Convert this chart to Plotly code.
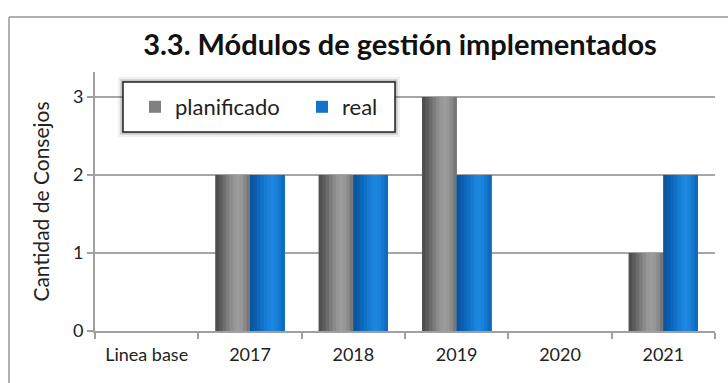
import plotly.graph_objects as go

categories = ["Linea base", "2017", "2018", "2019", "2020", "2021"]
planificado = [0, 2, 2, 3, 0, 1]
real = [0, 2, 2, 2, 0, 2]
y_ticks = [0, 1, 2, 3]

FONT = "Lato, 'Open Sans', sans-serif"
BAR_W = 0.335  # width of one bar in category units

# shading profile across a bar (left -> right), giving a cylinder look
gray_strips = ["#4f4f4f", "#5c5c5c", "#6c6c6c", "#7c7c7c", "#8b8b8b",
               "#979797", "#9c9c9c", "#979797", "#8a8a8a", "#777777"]
blue_strips = ["#0a56a0", "#0b5eae", "#0d67bb", "#1171c8", "#167bd3",
               "#1b83dc", "#1d87e0", "#1a82da", "#1478ce", "#0f6bbd"]

fig = go.Figure()


def add_series(name, values, base_color, strips, offset):
    # base bar (also carries the legend entry)
    fig.add_trace(go.Bar(
        x=categories, y=values, name=name, width=BAR_W, offset=offset,
        marker=dict(color=base_color, line=dict(width=0)),
        showlegend=True, hoverinfo="skip"))
    n = len(strips)
    sw = BAR_W / n
    # each strip runs to the right edge, so later strips cover earlier ones
    for i, c in enumerate(strips):
        fig.add_trace(go.Bar(
            x=categories, y=values, width=BAR_W - i * sw, offset=offset + i * sw,
            marker=dict(color=c, line=dict(width=0)),
            showlegend=False, hoverinfo="skip"))


add_series("planificado", planificado, "#808080", gray_strips, -BAR_W)
add_series("real", real, "#1474cc", blue_strips, 0.0)

L, T, PW, PH = 95, 72, 620, 259


def px_x(x):
    return (x - L) / PW


def px_y(y):
    return 1 - (y - T) / PH


shapes = [
    # outer chart frame: left and top edges
    dict(type="line", xref="paper", yref="paper",
         x0=px_x(9), x1=px_x(9), y0=px_y(383), y1=px_y(17),
         line=dict(color="#b0b0b0", width=2), layer="below"),
    dict(type="line", xref="paper", yref="paper",
         x0=px_x(9), x1=px_x(728), y0=px_y(17), y1=px_y(17),
         line=dict(color="#b0b0b0", width=2), layer="below"),
]
# soft shadow round the legend box
for grow, alpha in [(5, 0.06), (3, 0.10), (1.5, 0.16)]:
    shapes.append(dict(type="rect", xref="paper", yref="paper",
                       x0=px_x(123 - grow), x1=px_x(395 + grow),
                       y0=px_y(132 + grow), y1=px_y(82 - grow),
                       line=dict(width=0), fillcolor=f"rgba(0,0,0,{alpha})",
                       layer="above"))
shapes.append(dict(type="rect", xref="paper", yref="paper",
                   x0=px_x(123), x1=px_x(395), y0=px_y(132), y1=px_y(82),
                   line=dict(color="#222222", width=1.5), fillcolor="white",
                   layer="above"))

fig.update_layout(
    width=728, height=383,
    margin=dict(l=L, r=728 - L - PW, t=T, b=383 - T - PH),
    paper_bgcolor="white", plot_bgcolor="white",
    barmode="overlay",
    font=dict(family=FONT, color="#222222"),
    title=dict(text="<b>3.3. Módulos de gestión implementados</b>",
               x=px_x(400), xref="paper", xanchor="center",
               y=1 - 45 / 383, yanchor="middle",
               font=dict(size=29, color="#111111", family=FONT)),
    legend=dict(orientation="h", x=px_x(135), y=px_y(107),
                xanchor="left", yanchor="middle",
                bgcolor="rgba(0,0,0,0)", borderwidth=0,
                font=dict(size=22, color="#222222"),
                entrywidth=122, entrywidthmode="pixels",
                traceorder="normal"),
    xaxis=dict(type="category", tickson="boundaries", ticks="outside", ticklen=6,
               tickcolor="#a0a0a0", tickwidth=1.5,
               showline=True, linecolor="#a0a0a0", linewidth=2,
               tickfont=dict(size=18, color="#222222"),
               ticklabelstandoff=6,
               showgrid=False),
    yaxis=dict(range=[0, 3.32], tickvals=y_ticks, ticks="outside", ticklen=6,
               tickcolor="#a0a0a0", tickwidth=1.5,
               showline=True, linecolor="#a0a0a0", linewidth=2,
               showgrid=True, gridcolor="#a6a6a6", gridwidth=2,
               zeroline=False,
               tickfont=dict(size=18, color="#222222"),
               title=dict(text="Cantidad de Consejos", standoff=18,
                          font=dict(size=21, color="#222222"))),
    shapes=shapes,
)

fig.write_html("out.html", config={"displayModeBar": False})
